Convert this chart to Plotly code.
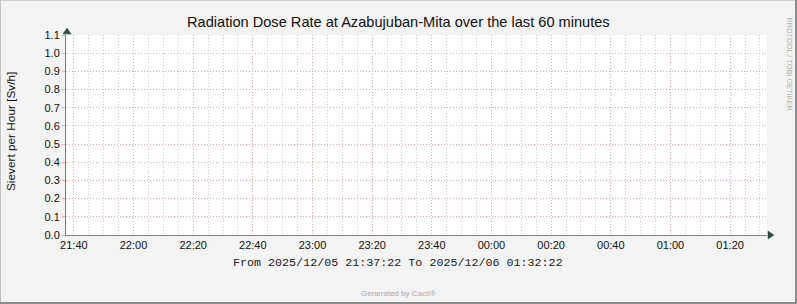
import plotly.graph_objects as go

# ---- data (the reference graph has no samples in the window) ----
times = []
dose_sv_per_hour = []
range_start = "2025-12-05 21:37:22"
range_end = "2025-12-06 01:32:22"
y_ticks = [0.0, 0.1, 0.2, 0.3, 0.4, 0.5, 0.6, 0.7, 0.8, 0.9, 1.0, 1.1]
title_text = "Radiation Dose Rate at Azabujuban-Mita over the last 60 minutes"
y_title = "Sievert per Hour [Sv/h]"
period_text = "From 2025/12/05 21:37:22 To 2025/12/06 01:32:22"
footer_text = "Generated by Cacti®"
watermark_text = "RRDTOOL / TOBI OETIKER"

W_FIG, H_FIG = 797, 304
L, R, T, B = 66, 30, 35, 69
PW = W_FIG - L - R
PH = H_FIG - T - B


def px(p):
    return (p - L) / PW


def py(p):
    return (T + PH - p) / PH


AXIS = "#6F8A82"
ARROW = "#2F4F45"
MGRID = "#EDA8A8"
GRID = "#CDCDCD"
DOT = "1px,2px"

fig = go.Figure()
fig.add_trace(go.Scatter(x=times, y=dose_sv_per_hour, mode="lines",
                         line=dict(color="#00CF00", width=1), showlegend=False))

fig.update_layout(
    width=W_FIG, height=H_FIG,
    margin=dict(l=L, r=R, t=T, b=B, pad=0),
    paper_bgcolor="#F3F3F3", plot_bgcolor="#FFFFFF",
    font=dict(family="Liberation Sans, Arial, sans-serif", size=11, color="#222222"),
    showlegend=False,
)

fig.update_xaxes(
    type="date", range=[range_start, range_end],
    tick0="2025-12-05 21:40:00", dtick=20 * 60 * 1000, tickformat="%H:%M",
    showgrid=True, gridcolor=MGRID, griddash=DOT, gridwidth=1,
    minor=dict(dtick=5 * 60 * 1000, tick0="2025-12-05 21:40:00", showgrid=True,
               gridcolor=GRID, griddash=DOT, gridwidth=1),
    showline=True, linecolor=AXIS, linewidth=1,
    ticks="", tickfont=dict(size=11, color="#111111"),
    zeroline=False, fixedrange=True,
)
fig.update_yaxes(
    range=[0, 1.1], tickvals=y_ticks, tickformat=".1f",
    showgrid=True, gridcolor=MGRID, griddash=DOT, gridwidth=1,
    showline=True, linecolor=AXIS, linewidth=1,
    ticks="outside", ticklen=3, tickcolor=MGRID,
    tickfont=dict(size=11, color="#111111"),
    zeroline=False, fixedrange=True,
)

shapes = [
    # arrow heads
    dict(type="path", xref="paper", yref="paper",
         path=f"M {px(63)} {py(34)} L {px(71)} {py(34)} L {px(67)} {py(28)} Z",
         fillcolor=ARROW, line=dict(color=ARROW, width=0.5)),
    dict(type="line", xref="paper", yref="paper", x0=px(66.5), x1=px(66.5),
         y0=1, y1=py(33), line=dict(color=AXIS, width=1)),
    dict(type="path", xref="paper", yref="paper",
         path=f"M {px(768)} {py(231)} L {px(768)} {py(239)} L {px(774)} {py(235)} Z",
         fillcolor=ARROW, line=dict(color=ARROW, width=0.5)),
    # frame
    dict(type="line", xref="paper", yref="paper", x0=px(0), x1=px(797), y0=py(0.5), y1=py(0.5),
         line=dict(color="#D2D2D2", width=1)),
    dict(type="line", xref="paper", yref="paper", x0=px(0.5), x1=px(0.5), y0=py(0), y1=py(304),
         line=dict(color="#C2C2C2", width=1)),
    dict(type="line", xref="paper", yref="paper", x0=px(0), x1=px(797), y0=py(303), y1=py(303),
         line=dict(color="#8C8C8C", width=2)),
    dict(type="line", xref="paper", yref="paper", x0=px(796), x1=px(796), y0=py(0), y1=py(304),
         line=dict(color="#8C8C8C", width=2)),
]
fig.update_layout(shapes=shapes)

annotations = [
    dict(text=title_text, xref="paper", yref="paper", x=px(398), y=py(22),
         xanchor="center", yanchor="middle", showarrow=False,
         font=dict(size=14.6, color="#111111")),
    dict(text=y_title, xref="paper", yref="paper", x=px(11), y=py(132),
         xanchor="center", yanchor="middle", showarrow=False, textangle=-90,
         font=dict(size=11.8, color="#111111")),
    dict(text=period_text, xref="paper", yref="paper", x=px(398), y=py(263),
         xanchor="center", yanchor="middle", showarrow=False,
         font=dict(family="Liberation Mono, Courier New, monospace", size=11.7, color="#222222")),
    dict(text=footer_text, xref="paper", yref="paper", x=px(398.5), y=py(293),
         xanchor="center", yanchor="middle", showarrow=False,
         font=dict(size=8, color="#ABABAB")),
    dict(text=watermark_text, xref="paper", yref="paper", x=px(789), y=py(15),
         xanchor="center", yanchor="top", showarrow=False, textangle=90,
         font=dict(size=7.4, color="#B0B0B0")),
]
fig.update_layout(annotations=annotations)

fig.write_html("out.html")
